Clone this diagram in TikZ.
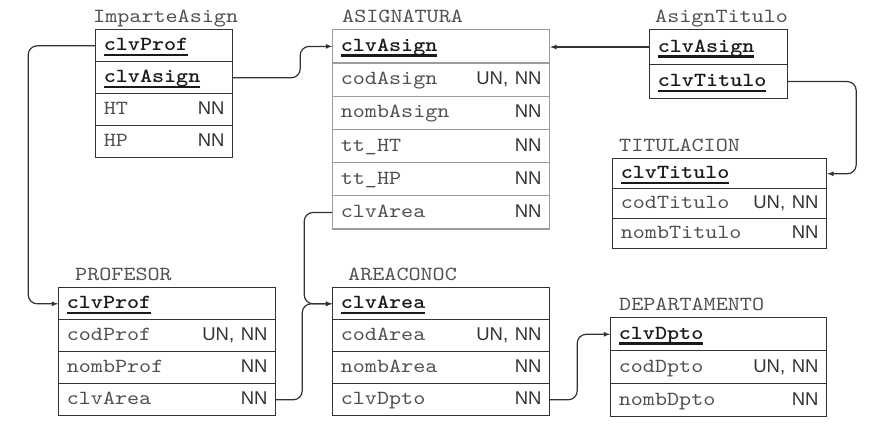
\documentclass[tikz,border=0pt]{standalone}
\usepackage{fontspec}
\usetikzlibrary{matrix,arrows,positioning}

\newfontfamily\monofnt[Extension=.otf, BoldFont=lmmonolt10-bold, FakeStretch=1.15]{lmmono10-regular}
\newfontfamily\sansfnt{Liberation Sans}

\definecolor{linea}{HTML}{333333}
\definecolor{lineaclara}{HTML}{9C9C9C}
\definecolor{texto}{HTML}{505050}
\definecolor{clavec}{HTML}{1A1A1A}

% key field: bold and underlined
\newcommand{\clave}[1]{{\color{clavec}\bfseries\setbox0=\hbox{#1}\rlap{\rule[-5.5pt]{\wd0}{2.5pt}}\box0}}
% plain field with its constraint on the right
\newcommand{\campo}[2]{#1\hfill{\sansfnt\fontsize{18.5}{18.5}\selectfont\color{linea}#2}}

\tikzset{
  tabla/.style 2 args={matrix of nodes, row sep=-1.2pt, inner sep=0pt,
    nodes={draw=linea, line width=1.2pt, anchor=center, text width=#1pt,
      minimum height=#2pt, inner xsep=8pt, inner ysep=0pt,
      text height=14pt, text depth=4pt, text=texto,
      font=\monofnt\fontsize{20}{24}\selectfont}},
  titulo/.style={inner sep=0pt, text depth=0pt, text=texto,
    font=\monofnt\fontsize{20}{24}\selectfont},
  conn/.style={draw=linea, line width=1.2pt, rounded corners=9pt, -latex}
}

\begin{document}
\begin{tikzpicture}[x=1pt,y=1pt]
\useasboundingbox (0,0) rectangle (876,-424);

% Tables
\matrix (impa)[tabla={120.8}{32}, anchor=north west] at (95,-29) {
\clave{clvProf}\\
\clave{clvAsign}\\
\campo{HT}{NN}\\
\campo{HP}{NN}\\
};
\matrix (asig)[tabla={200.8}{33.2}, nodes={draw=lineaclara}, anchor=north west] at (332,-29) {
\clave{clvAsign}\\
\campo{codAsign}{UN, NN}\\
\campo{nombAsign}{NN}\\
\campo{tt\_HT}{NN}\\
\campo{tt\_HP}{NN}\\
\campo{clvArea}{NN}\\
};
\matrix (asti)[tabla={121.8}{34.5}, anchor=north west] at (649,-29) {
\clave{clvAsign}\\
\clave{clvTitulo}\\
};
\matrix (titu)[tabla={197.8}{30}, anchor=north west] at (612,-158) {
\clave{clvTitulo}\\
\campo{codTitulo}{UN, NN}\\
\campo{nombTitulo}{NN}\\
};
\matrix (prof)[tabla={200.8}{32}, anchor=north west] at (58,-287) {
\clave{clvProf}\\
\campo{codProf}{UN, NN}\\
\campo{nombProf}{NN}\\
\campo{clvArea}{NN}\\
};
\matrix (area)[tabla={200.8}{32}, anchor=north west] at (332,-287) {
\clave{clvArea}\\
\campo{codArea}{UN, NN}\\
\campo{nombArea}{NN}\\
\campo{clvDpto}{NN}\\
};
\matrix (dept)[tabla={199.8}{33}, anchor=north west] at (610,-317) {
\clave{clvDpto}\\
\campo{codDpto}{UN, NN}\\
\campo{nombDpto}{NN}\\
};

% Header
\node[titulo, above right=6pt and -2pt of impa.north west] (t-impa) {ImparteAsign};
\node[titulo, above right=6pt and 10pt of asig.north west] (t-asig) {ASIGNATURA};
\node[titulo, above right=6pt and 6pt of asti.north west] (t-asti) {AsignTitulo};
\node[titulo, above right=6pt and 7pt of titu.north west] (t-titu) {TITULACION};
\node[titulo, above right=6pt and 17pt of prof.north west] (t-prof) {PROFESOR};
\node[titulo, above right=6pt and 16pt of area.north west] (t-area) {AREACONOC};
\node[titulo, above right=6pt and 9pt of dept.north west] (t-dept) {DEPARTAMENTO};

% Arrows
\draw[conn] (impa-1-1.west) -- ++(-67,0) |- (prof-1-1.west);
\draw[conn] (impa-2-1.east) -- ++(67,0) |- (asig-1-1.west);
\draw[conn] (asti-1-1.west) -- (asti-1-1.west -| asig-1-1.east);
\draw[conn] (asti-2-1.east) -- ++(68,0) |- (titu-1-1.east);
\draw[conn] (asig-6-1.west) -- ++(-28,0) |- (area-1-1.west);
\draw[conn] (prof-4-1.east) -- ++(26,0) |- (area-1-1.west);
\draw[conn] (area-4-1.east) -- ++(27,0) |- (dept-1-1.west);

\end{tikzpicture}
\end{document}
